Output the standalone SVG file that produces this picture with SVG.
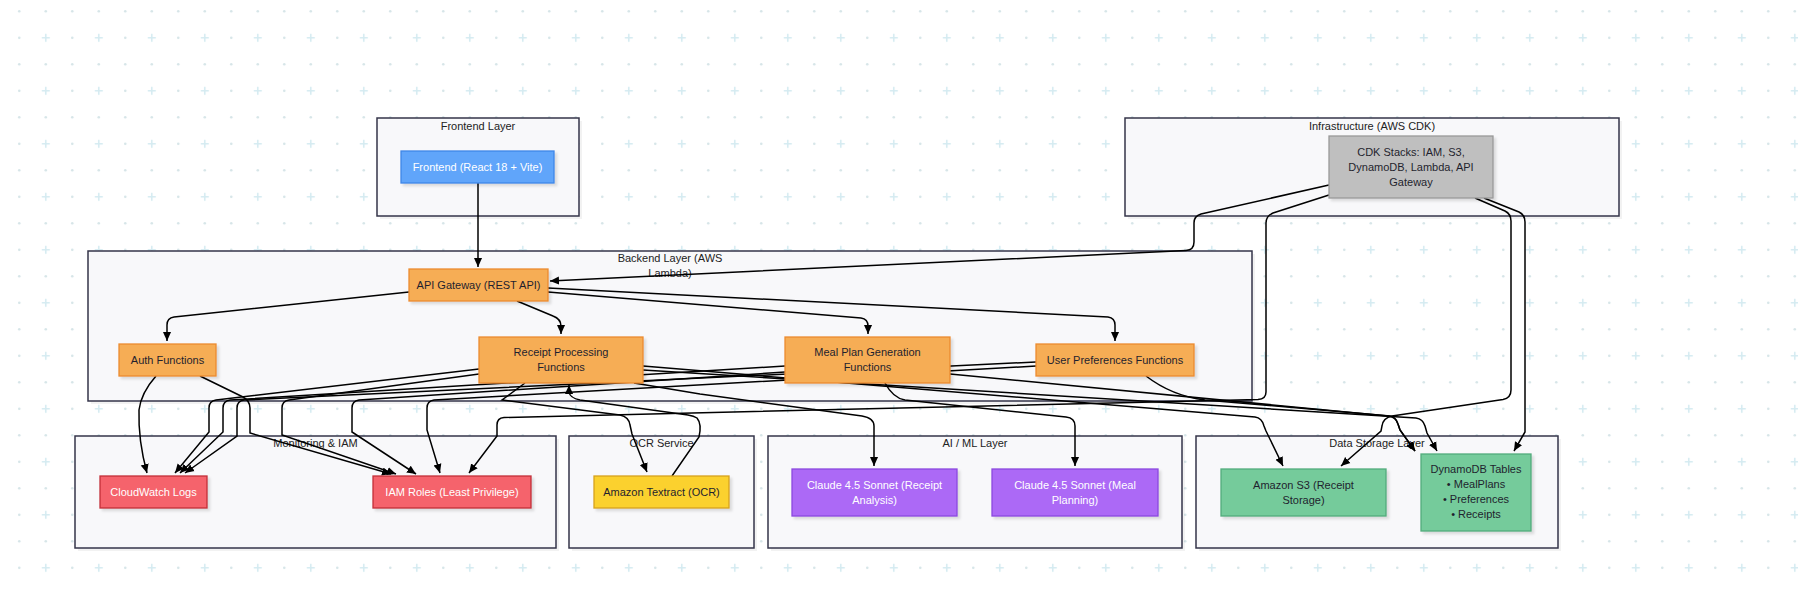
<svg xmlns="http://www.w3.org/2000/svg" width="1798" height="592" viewBox="0 0 1798 592">
<style>
text{font-family:"Liberation Sans",Arial,sans-serif;font-size:11px;text-anchor:middle;fill:#1f1f2e}
.cl{fill:#f8f8fa;stroke:#35354a;stroke-width:1.5}
.cls{fill:#000;opacity:.05}
.ct{fill:#222}
.e{fill:none;stroke:#000;stroke-width:1.5;marker-end:url(#ah)}
.n{stroke-width:1.3;filter:url(#sh)}
.blue{fill:#60a5fa;stroke:#3f86e8}
.org{fill:#f6ad55;stroke:#ec8b2e}
.gray{fill:#bfbfbf;stroke:#999}
.red{fill:#f5646c;stroke:#c22f3a}
.yel{fill:#fbd12e;stroke:#d6a21c}
.pur{fill:#ac69f6;stroke:#8b48df}
.grn{fill:#74cb9b;stroke:#52ab7b}
.w{fill:#fff}
</style>
<defs>
<pattern id="grid" x="6.05" y="-1.95" width="53" height="53" patternUnits="userSpaceOnUse">
<circle cx="13.25" cy="13.25" r="1.3" fill="#d6e5e8"/>
<circle cx="39.75" cy="13.25" r="1.3" fill="#d6e5e8"/>
<circle cx="13.25" cy="39.75" r="1.3" fill="#d6e5e8"/>
<path d="M35.75,39.75h8M39.75,35.75v8" stroke="#d5ebf1" stroke-width="1.6"/>
</pattern>
<marker id="ah" viewBox="0 0 10 10" refX="10" refY="5" markerWidth="9" markerHeight="9" markerUnits="userSpaceOnUse" orient="auto">
<path d="M0,0.5L10,5L0,9.5z" fill="#000"/>
</marker>
<filter id="sh" x="-10%" y="-10%" width="130%" height="140%">
<feDropShadow dx="2.5" dy="2.5" stdDeviation="1" flood-color="#000" flood-opacity="0.12"/>
</filter>
</defs>
<rect width="1798" height="592" fill="#fff"/>
<rect width="1798" height="592" fill="url(#grid)"/>

<g id="clusters">
<g id="frontend-layer"><rect class="cls" x="380" y="121" width="202" height="98"/><rect class="cl" x="377" y="118" width="202" height="98"/><text class="ct" x="478" y="129.5">Frontend Layer</text></g>
<g id="infrastructure"><rect class="cls" x="1128" y="121" width="494" height="98"/><rect class="cl" x="1125" y="118" width="494" height="98"/><text class="ct" x="1372" y="129.5">Infrastructure (AWS CDK)</text></g>
<g id="backend-layer"><rect class="cls" x="91" y="254" width="1164" height="150"/><rect class="cl" x="88" y="251" width="1164" height="150"/><text class="ct" x="670" y="262">Backend Layer (AWS</text><text class="ct" x="670" y="277">Lambda)</text></g>
<g id="monitoring"><rect class="cls" x="78" y="439" width="481" height="112"/><rect class="cl" x="75" y="436" width="481" height="112"/><text class="ct" x="315.5" y="447">Monitoring &amp; IAM</text></g>
<g id="ocr"><rect class="cls" x="572" y="439" width="185" height="112"/><rect class="cl" x="569" y="436" width="185" height="112"/><text class="ct" x="661.5" y="447">OCR Service</text></g>
<g id="aiml"><rect class="cls" x="771" y="439" width="414" height="112"/><rect class="cl" x="768" y="436" width="414" height="112"/><text class="ct" x="975" y="447">AI / ML Layer</text></g>
<g id="storage"><rect class="cls" x="1199" y="439" width="362" height="112"/><rect class="cl" x="1196" y="436" width="362" height="112"/><text class="ct" x="1377" y="447">Data Storage Layer</text></g>
</g>

<g id="connectors">
<path class="e" d="M478,183V267"/>
<path class="e" d="M409,292L174,317Q167,318 167,325V341"/>
<path class="e" d="M517,301L553,316Q561,319 561,326V334"/>
<path class="e" d="M548,292L861,318Q868,319 868,326V334"/>
<path class="e" d="M548,288L1108,317Q1115,318 1115,325V341"/>
<path class="e" d="M1329,185L1201,214Q1194,216 1194,223V242Q1194,250 1186,250.5L550,281"/>
<path class="e" d="M1329,195L1273,213Q1266,216 1266,223V392Q1266,399 1258,399.5L504,417.5Q497,418 497,425V436L469,473"/>
<path class="e" d="M1475,198L1505,211Q1511,214 1511,221V390Q1511,398 1503,399.5L1392,416Q1383,418 1382,426L1381,431L1341,466"/>
<path class="e" d="M1484,198L1519,212Q1525,215 1525,222V432L1514,451"/>
<path class="e" d="M156,376Q141,393 139,410Q138,440 147,473"/>
<path class="e" d="M200,376L243,397Q250,401 250,408V433L391,474"/>
<path class="e" d="M479,369L216,400Q209,401 209,408V432L175,473"/>
<path class="e" d="M479,374L289,400Q282,401 282,408V435L396,474"/>
<path class="e" d="M785,366L230,400Q223,401 223,408V432L180,473"/>
<path class="e" d="M785,372L359,400Q352,401 352,408V432L416,474"/>
<path class="e" d="M1036,362L244,400Q237,401 237,408V436L185,473"/>
<path class="e" d="M1036,366L434,400Q427,401 427,408V430L440,473"/>
<path class="e" d="M525,383L502,400L620,415Q629,417 630,425L632,434L647,472"/>
<path class="e" d="M672,476L699,437Q702,424 697,418Q694,416 688,415L580,400Q570,398 569,392V385"/>
<path class="e" d="M634,383L700,394L862,416Q874,418 874,426V466"/>
<path class="e" d="M885,383Q893,398 905,400L1066,417Q1075,418 1075,426V466"/>
<path class="e" d="M643,366L1255,417Q1262,418 1264,426L1266,431L1283,466"/>
<path class="e" d="M643,370L1416,418Q1423,419 1425,426L1427,433L1437,451"/>
<path class="e" d="M950,374L1388,416Q1396,417 1398,424L1400,430L1415,451"/>
<path class="e" d="M1146,376Q1172,396 1205,400L1390,416Q1396,417 1398,424L1400,430L1415,451"/>
</g>

<g id="frontend"><rect class="n blue" x="401" y="151" width="153" height="32"/><text class="w" x="477.5" y="170.8">Frontend (React 18 + Vite)</text></g>
<g id="cdk"><rect class="n gray" x="1329" y="136" width="164" height="62"/><text x="1411" y="155.5">CDK Stacks: IAM, S3,</text><text x="1411" y="170.5">DynamoDB, Lambda, API</text><text x="1411" y="185.5">Gateway</text></g>
<g id="apigw"><rect class="n org" x="409" y="269" width="139" height="32"/><text x="478.5" y="288.8">API Gateway (REST API)</text></g>
<g id="auth"><rect class="n org" x="119" y="344" width="97" height="32"/><text x="167.5" y="363.8">Auth Functions</text></g>
<g id="receipt"><rect class="n org" x="479" y="337" width="164" height="46"/><text x="561" y="355.5">Receipt Processing</text><text x="561" y="370.5">Functions</text></g>
<g id="mealplan"><rect class="n org" x="785" y="337" width="165" height="46"/><text x="867.5" y="355.5">Meal Plan Generation</text><text x="867.5" y="370.5">Functions</text></g>
<g id="userprefs"><rect class="n org" x="1036" y="344" width="158" height="32"/><text x="1115" y="363.8">User Preferences Functions</text></g>
<g id="cloudwatch"><rect class="n red" x="100" y="476" width="107" height="32"/><text class="w" x="153.5" y="495.8">CloudWatch Logs</text></g>
<g id="iam"><rect class="n red" x="373" y="476" width="158" height="32"/><text class="w" x="452" y="495.8">IAM Roles (Least Privilege)</text></g>
<g id="textract"><rect class="n yel" x="594" y="476" width="135" height="32"/><text x="661.5" y="495.8">Amazon Textract (OCR)</text></g>
<g id="claude-receipt"><rect class="n pur" x="792" y="469" width="165" height="47"/><text class="w" x="874.5" y="488.8">Claude 4.5 Sonnet (Receipt</text><text class="w" x="874.5" y="503.8">Analysis)</text></g>
<g id="claude-meal"><rect class="n pur" x="992" y="469" width="166" height="47"/><text class="w" x="1075" y="488.8">Claude 4.5 Sonnet (Meal</text><text class="w" x="1075" y="503.8">Planning)</text></g>
<g id="s3"><rect class="n grn" x="1221" y="469" width="165" height="47"/><text x="1303.5" y="488.8">Amazon S3 (Receipt</text><text x="1303.5" y="503.8">Storage)</text></g>
<g id="dynamodb"><rect class="n grn" x="1421" y="454" width="110" height="77"/><text x="1476" y="473.3">DynamoDB Tables</text><text x="1476" y="488.3">• MealPlans</text><text x="1476" y="503.3">• Preferences</text><text x="1476" y="518.3">• Receipts</text></g>
</svg>
